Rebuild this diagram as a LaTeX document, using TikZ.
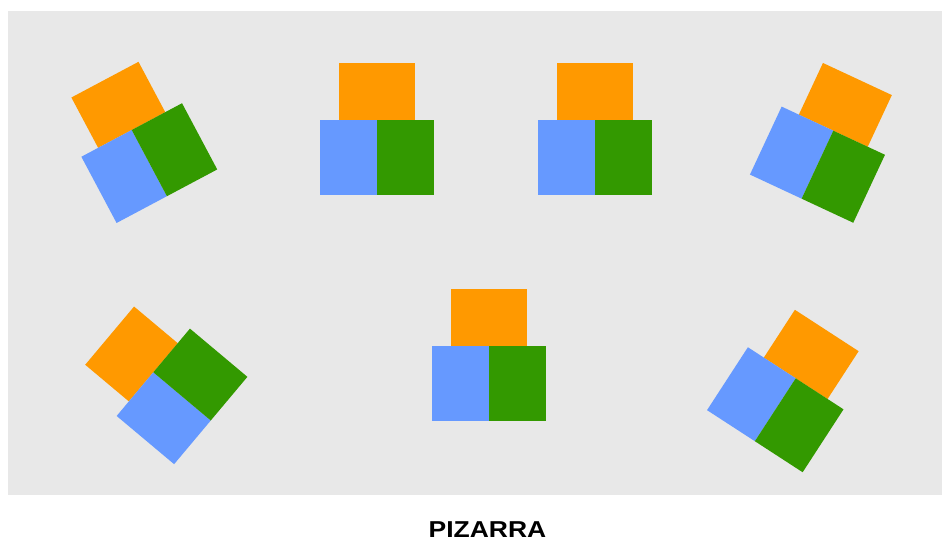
\documentclass[tikz,border=0pt]{standalone}
\usepackage{fontspec}
\setmainfont{Liberation Sans}
\definecolor{deskorange}{RGB}{255,153,0}
\definecolor{deskblue}{RGB}{102,153,255}
\definecolor{deskgreen}{RGB}{51,153,0}
\definecolor{roomgray}{RGB}{232,232,232}
\tikzset{
  orangedesk/.style={fill=deskorange,draw=none},
  bluedesk/.style={fill=deskblue,draw=none},
  greendesk/.style={fill=deskgreen,draw=none},
  deskgroup/.pic={
    \fill[orangedesk] (-38,0) rectangle (38,57);
    \fill[bluedesk] (-57,-75) rectangle (0,0);
    \fill[greendesk] (0,-75) rectangle (57,0);
  }
}
\begin{document}
\begin{tikzpicture}[x=1pt,y=1pt]
\useasboundingbox (0,0) rectangle (942,540);
\fill[roomgray] (8,45) rectangle (942,529);
% desk groups (image coords: x, 540-y)
\pic[rotate=28] at (131.7,410) {deskgroup};
\pic at (377.3,420) {deskgroup};
\pic at (595,420) {deskgroup};
\pic[rotate=-25] at (833.3,409.3) {deskgroup};
\pic[rotate=50] at (153.3,167.7) {deskgroup};
\pic at (489,194) {deskgroup};
\pic[rotate=-33] at (795.7,161.7) {deskgroup};
\node[font=\bfseries\fontsize{23}{26}\selectfont, inner sep=0pt, xscale=1.15] (pizarra) at (487.5,10) {PIZARRA};
\end{tikzpicture}
\end{document}
